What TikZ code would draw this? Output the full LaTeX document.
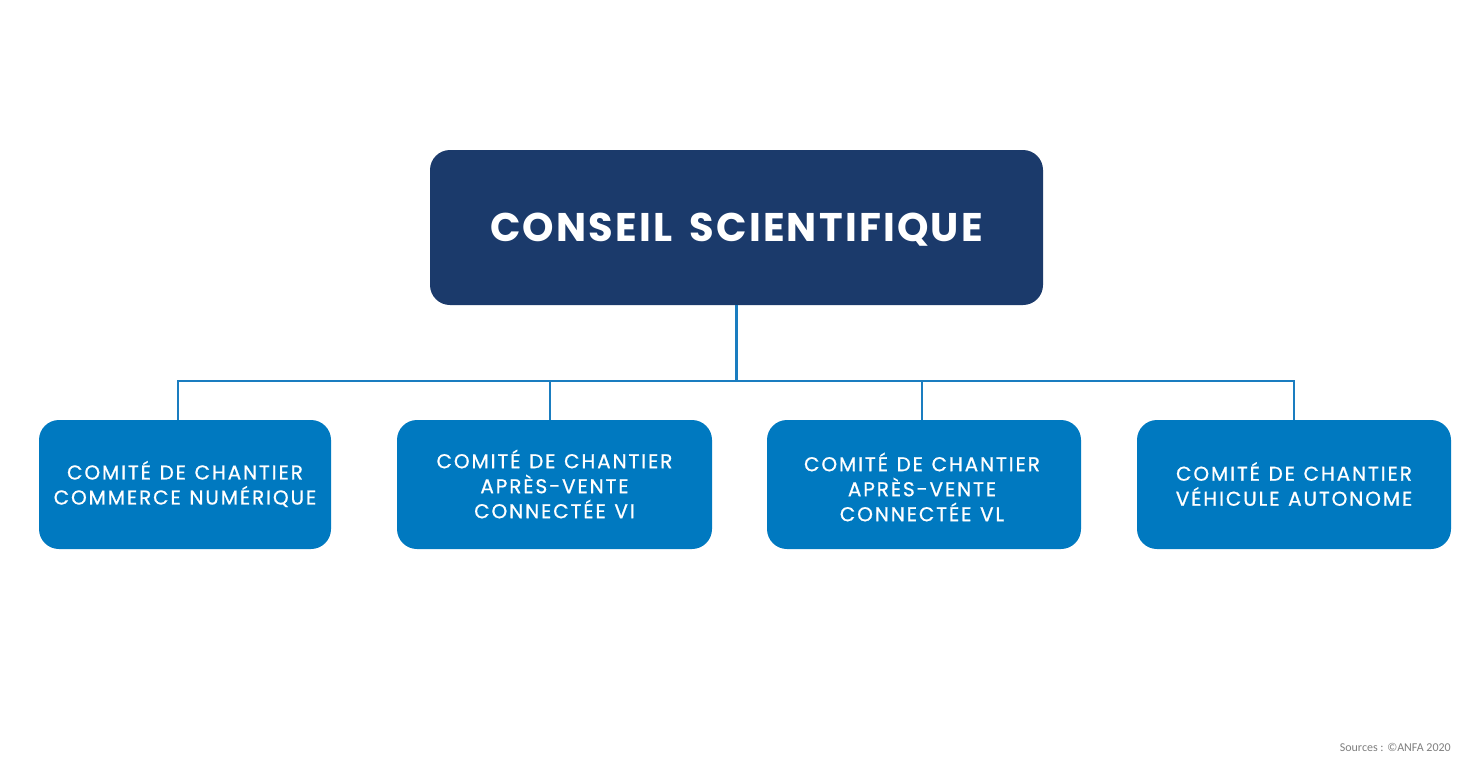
\documentclass[tikz,border=0pt]{standalone}
\usepackage{fontspec}
\setmainfont{Poppins}
\newfontfamily\titlefont[LetterSpace=5.5,WordSpace=1.6]{Poppins}
\newfontfamily\subfont[LetterSpace=9.5,FakeBold=0.8,WordSpace=1.2]{Poppins}
\newfontfamily\srcfont{Carlito}
\definecolor{navy}{HTML}{1B3A6B}
\definecolor{midblue}{HTML}{0079C0}
\definecolor{linkblue}{HTML}{1A7DC0}
\definecolor{srcgray}{HTML}{7F7F7F}
\begin{document}
\begin{tikzpicture}[x=1pt,y=-1pt,
  topbox/.style={fill=navy, rounded corners=20pt, text=white},
  subbox/.style={fill=midblue, rounded corners=20pt, text=white},
  link/.style={draw=linkblue, line width=2.6pt}]
\useasboundingbox (0,0) rectangle (1484,780);
\fill[white] (0,0) rectangle (1484,780);
% top box
\path[topbox] (430,150) rectangle (1043,305);
\node[text=white, font=\titlefont\fontsize{40}{48}\selectfont\bfseries] (top) at (736.5,230) {CONSEIL SCIENTIFIQUE};
\coordinate (topb) at (736.5,305);
% sub boxes
\path[subbox] (39,420) rectangle (331,549);
\path[subbox] (397,420) rectangle (712,549);
\path[subbox] (767,420) rectangle (1081,549);
\path[subbox] (1137,420) rectangle (1451,549);
\coordinate (b1) at (178,420);
\coordinate (b2) at (550,420);
\coordinate (b3) at (922,420);
\coordinate (b4) at (1294,420);
\tikzset{subtxt/.style={text=white, align=center, font=\subfont\fontsize{20}{25}\selectfont}}
\node[subtxt] (t1) at (185,484) {COMITÉ DE CHANTIER\\COMMERCE NUMÉRIQUE};
\node[subtxt] (t2) at (554.5,484) {COMITÉ DE CHANTIER\\APRÈS-VENTE\\CONNECTÉE VI};
\node[subtxt] (t3) at (922,487) {COMITÉ DE CHANTIER\\APRÈS-VENTE\\CONNECTÉE VL};
\node[subtxt] (t4) at (1294,484) {COMITÉ DE CHANTIER\\VÉHICULE AUTONOME};
% connectors
\coordinate (hub) at (736.5,381);
\draw[link] (topb) -- (hub);
\draw[link] (b1) |- (hub) -| (b4);
\draw[link] (b2) -- (b2 |- hub);
\draw[link] (b3) -- (b3 |- hub);
\node[anchor=east, text=srcgray, font=\srcfont\fontsize{12}{14}\selectfont, inner sep=0pt] (src) at (1451,747) {Sources : ©ANFA 2020};
\end{tikzpicture}
\end{document}
